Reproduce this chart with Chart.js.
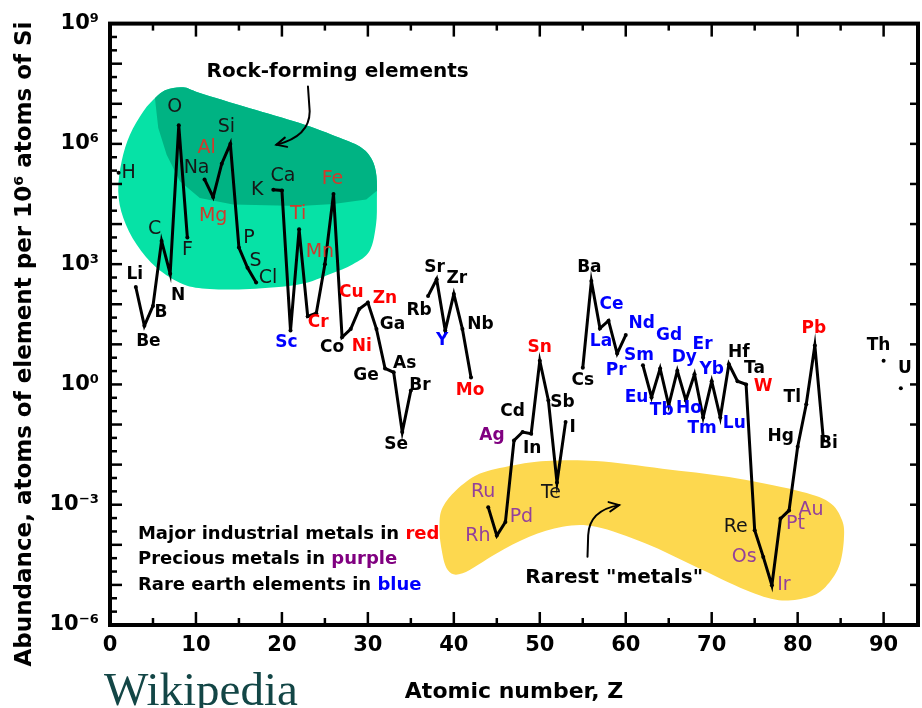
<!DOCTYPE html>
<html>
<head>
<meta charset="utf-8">
<script src="https://cdn.jsdelivr.net/npm/chart.js@4.4.1/dist/chart.umd.min.js"></script>
<style>
html,body{margin:0;padding:0;background:#fff;}
canvas{display:block;}
</style>
</head>
<body>
<canvas id="chart" width="922" height="708"></canvas>
<script>
// element symbols and atomic numbers that appear on the plot
const symbols = ['H','Li','Be','B','C','N','O','F','Na','Mg','Al','Si','P','S','Cl','K','Ca','Sc','Ti','V','Cr','Mn','Fe','Co','Ni','Cu','Zn','Ga','Ge','As','Se','Br','Rb','Sr','Y','Zr','Nb','Mo','Ru','Rh','Pd','Ag','Cd','In','Sn','Sb','Te','I','Cs','Ba','La','Ce','Pr','Nd','Sm','Eu','Gd','Tb','Dy','Ho','Er','Tm','Yb','Lu','Hf','Ta','W','Re','Os','Ir','Pt','Au','Hg','Tl','Pb','Bi','Th','U'];
const atomicNumbers = [1,3,4,5,6,7,8,9,11,12,13,14,15,16,17,19,20,21,22,23,24,25,26,27,28,29,30,31,32,33,34,35,37,38,39,40,41,42,44,45,46,47,48,49,50,51,52,53,55,56,57,58,59,60,62,63,64,65,66,67,68,69,70,71,72,73,74,75,76,77,78,79,80,81,82,83,90,92];
// atoms per 10^6 atoms of Si
const abundance = [1.9e5,270,29,91,3800,580,2.9e6,4600,1.3e5,4.7e4,3.2e5,1e6,2600,810,350,7.2e4,6.9e4,22,7400,50,60,1000,5.6e4,15,24,76,110,24,2.5,2.0,0.065,0.71,160,420,22,180,24,1.5,8.7e-4,1.7e-4,3.7e-4,0.040,0.065,0.059,3.9,0.40,0.0036,0.115,2.6,380,25,39,5.9,17,3.0,0.48,2.5,0.30,2.2,0.40,1.8,0.15,1.2,0.15,3.2,1.2,1.0,2.3e-4,5.0e-5,9.8e-6,4.5e-4,7.2e-4,0.028,0.32,9.3,0.040,3.9,0.8];

const industrial = ['Al','Mg','Ti','Cr','Mn','Fe','Ni','Cu','Zn','Mo','Sn','W','Pb'];
const precious = ['Ag','Ru','Rh','Pd','Os','Ir','Pt','Au'];
const rareEarth = ['Sc','Y','La','Ce','Pr','Nd','Sm','Eu','Gd','Tb','Dy','Ho','Er','Tm','Yb','Lu'];

const xTickStep = 10;
const yTickExponents = [-6,-3,0,3,6,9];

// ---- layout / style (not data) ----
const thinLabels = ['H','C','O','F','Na','Al','Mg','Si','P','S','Cl','K','Ca','Ti','Mn','Fe','Ru','Rh','Pd','Te','Re','Os','Ir','Pt','Au'];
const labelOffsets = [[10,0],[-1,-12],[4,16],[8,7],[-7,-12],[8,22],[-4,-18],[0,12],[-8,-11],[0,19],[-15,-16],[-4,-17],[10,-9],[8,-7],[12,-4],[-16,0],[1,-14],[-4,12],[-1,-15],null,[2,9],[-5,-12],[-1,-15],[-10,10],[11,17],[-8,-16],[17,-4],[16,-5],[-19,7],[11,-9],[-6,13],[9,-5],[-9,15],[-2,-12],[-3,10],[3,-15],[18,-5],[-1,13],[-5,-15],[-19,0],[16,-5],[-22,-5],[-10,-20],[1,15],[0,-13],[14,2],[-6,11],[7,5],[0,13],[-2,-13],[1,13],[3,-16],[-1,17],[16,-12],[-4,-10],[-15,0],[9,-33],[-7,5],[7,-13],[3,8],[8,-30],[-1,11],[0,-12],[14,6],[10,-12],[17,-13],[17,2],[-19,-3],[-19,0],[12,0],[15,5],[22,0],[-17,-10],[-14,-7],[-1,-17],[5,3],[-5,-15],[4,-20]];

// shaded regions, in (Z, log10 abundance)
const rockOutline = [[5.42,7.18],[6.59,7.35],[8.51,7.41],[10.45,7.27],[16.26,6.89],[22.07,6.52],[26.71,6.15],[29.3,5.9],[30.5,5.6],[31.0,5.2],[31.05,4.6],[30.95,3.99],[30.2,3.33],[28.26,3.0],[25.55,2.75],[22.07,2.5],[16.26,2.38],[11.61,2.38],[8.51,2.5],[5.42,2.91],[3.1,3.49],[1.54,4.16],[0.96,4.82],[1.36,5.57],[2.32,6.23],[3.87,6.81]];
const rockDark = [[4.6,7.7],[33,7.7],[33,4.85],[30.98,4.82],[29.81,4.61],[26,4.5],[22.07,4.45],[14.32,4.49],[10.45,4.65],[8.13,5.07],[6.59,5.73],[5.61,6.4],[5.23,7.14],[5.0,7.7]];
const rareOutline = [[38.71,-3.06],[40.27,-2.64],[42.97,-2.23],[46.84,-2.02],[50.72,-1.91],[56.53,-1.91],[64.26,-2.10],[72.01,-2.31],[79.76,-2.64],[83.62,-2.93],[85.17,-3.39],[85.37,-3.89],[84.79,-4.55],[83.24,-5.05],[81.3,-5.3],[77.82,-5.38],[73.95,-5.13],[68.14,-4.55],[62.33,-3.97],[56.53,-3.55],[52.65,-3.55],[48.78,-3.8],[44.91,-4.22],[41.03,-4.71],[39.29,-4.63],[38.52,-4.05],[38.33,-3.47]];

const lineData = [];
atomicNumbers.forEach((z, i) => {
  if (i > 0 && z - atomicNumbers[i-1] > 1) lineData.push({x: z - 1, y: null});
  lineData.push({x: z, y: abundance[i]});
});

const supers = {'-':'\u207B','0':'\u2070','1':'\u00B9','2':'\u00B2','3':'\u00B3','4':'\u2074','5':'\u2075','6':'\u2076','7':'\u2077','8':'\u2078','9':'\u2079'};
function powerLabel(v){
  const e = Math.round(Math.log10(v));
  return '10' + String(e).split('').map(c => supers[c]).join('');
}

const FONT = '"DejaVu Sans", "Liberation Sans", sans-serif';

function toPx(chart, p){
  return [chart.scales.x.getPixelForValue(p[0]), chart.scales.y.getPixelForValue(Math.pow(10, p[1]))];
}
function smoothPath(ctx, pts){
  const n = pts.length;
  ctx.beginPath();
  ctx.moveTo(pts[0][0], pts[0][1]);
  for (let i = 0; i < n; i++) {
    const p0 = pts[(i-1+n)%n], p1 = pts[i], p2 = pts[(i+1)%n], p3 = pts[(i+2)%n];
    ctx.bezierCurveTo(p1[0]+(p2[0]-p0[0])/6, p1[1]+(p2[1]-p0[1])/6,
                      p2[0]-(p3[0]-p1[0])/6, p2[1]-(p3[1]-p1[1])/6, p2[0], p2[1]);
  }
  ctx.closePath();
}
function arrowHead(ctx, from, tip){
  const ang = Math.atan2(tip[1]-from[1], tip[0]-from[0]);
  ctx.beginPath();
  ctx.moveTo(tip[0] - 11*Math.cos(ang-0.45), tip[1] - 11*Math.sin(ang-0.45));
  ctx.lineTo(tip[0], tip[1]);
  ctx.lineTo(tip[0] - 11*Math.cos(ang+0.45), tip[1] - 11*Math.sin(ang+0.45));
  ctx.stroke();
}

const regions = {
  id: 'regions',
  beforeDatasetsDraw(chart){
    const ctx = chart.ctx;
    ctx.save();
    const rock = rockOutline.map(p => toPx(chart, p));
    smoothPath(ctx, rock);
    ctx.fillStyle = '#06e2a6';
    ctx.fill();
    ctx.clip();
    ctx.beginPath();
    rockDark.map(p => toPx(chart, p)).forEach((p, i) => i ? ctx.lineTo(p[0], p[1]) : ctx.moveTo(p[0], p[1]));
    ctx.closePath();
    ctx.fillStyle = '#00b383';
    ctx.fill();
    ctx.restore();

    ctx.save();
    smoothPath(ctx, rareOutline.map(p => toPx(chart, p)));
    ctx.fillStyle = '#fdd84f';
    ctx.fill();
    ctx.restore();
  }
};

const annotations = {
  id: 'annotations',
  afterDatasetsDraw(chart){
    const ctx = chart.ctx, xs = chart.scales.x, ys = chart.scales.y;
    ctx.save();
    ctx.textAlign = 'center';
    ctx.textBaseline = 'middle';
    symbols.forEach((s, i) => {
      const off = labelOffsets[i];
      if (!off) return;
      const px = xs.getPixelForValue(atomicNumbers[i]) + off[0];
      const py = ys.getPixelForValue(abundance[i]) + off[1];
      const thin = thinLabels.includes(s);
      let color = thin ? '#161616' : '#000';
      if (industrial.includes(s)) color = thin ? '#d03a2c' : '#ff0000';
      else if (precious.includes(s)) color = thin ? '#94409a' : '#800080';
      else if (rareEarth.includes(s)) color = '#0000ff';
      ctx.font = thin ? '19px ' + FONT : 'bold 17px ' + FONT;
      ctx.fillStyle = color;
      ctx.fillText(s, px, py);
    });

    // titles of the shaded regions
    ctx.font = 'bold 20px ' + FONT;
    ctx.fillStyle = '#000';
    let p = toPx(chart, [26.48, 7.81]);
    ctx.fillText('Rock-forming elements', p[0], p[1]);
    p = toPx(chart, [58.65, -4.83]);
    ctx.fillText('Rarest "metals"', p[0], p[1]);

    // arrows
    ctx.strokeStyle = '#000';
    ctx.lineWidth = 2;
    ctx.lineCap = 'round';
    let a0 = toPx(chart, [23.03, 7.43]), a1 = toPx(chart, [23.23, 6.81]), ac = toPx(chart, [23.23, 6.19]), at = toPx(chart, [19.36, 5.98]);
    ctx.beginPath(); ctx.moveTo(a0[0], a0[1]); ctx.lineTo(a1[0], a1[1]); ctx.quadraticCurveTo(ac[0], ac[1], at[0], at[1]); ctx.stroke();
    arrowHead(ctx, ac, at);
    a0 = toPx(chart, [55.55, -4.30]); a1 = toPx(chart, [55.63, -3.76]); ac = toPx(chart, [55.75, -3.14]); at = toPx(chart, [59.23, -3.01]);
    ctx.beginPath(); ctx.moveTo(a0[0], a0[1]); ctx.lineTo(a1[0], a1[1]); ctx.quadraticCurveTo(ac[0], ac[1], at[0], at[1]); ctx.stroke();
    arrowHead(ctx, ac, at);

    // colour key
    const key = [['Major industrial metals in ', 'red', '#ff0000', -3.74], ['Precious metals in ', 'purple', '#800080', -4.36], ['Rare earth elements in ', 'blue', '#0000ff', -5.01]];
    ctx.font = 'bold 18px ' + FONT;
    ctx.textAlign = 'left';
    key.forEach(k => {
      const q = toPx(chart, [3.25, k[3]]);
      ctx.fillStyle = '#000';
      ctx.fillText(k[0], q[0], q[1]);
      ctx.fillStyle = k[2];
      ctx.fillText(k[1], q[0] + ctx.measureText(k[0]).width, q[1]);
    });
    ctx.restore();
  }
};

const frame = {
  id: 'frame',
  afterDraw(chart){
    const ctx = chart.ctx, a = chart.chartArea, xs = chart.scales.x, ys = chart.scales.y;
    ctx.save();
    ctx.strokeStyle = '#000';
    ctx.lineWidth = 2.5;
    const seg = (x1, y1, x2, y2) => { ctx.beginPath(); ctx.moveTo(x1, y1); ctx.lineTo(x2, y2); ctx.stroke(); };
    for (let v = 0; v <= 90; v += 5) {
      const px = xs.getPixelForValue(v);
      const len = v % 10 === 0 ? 13 : 7;
      seg(px, a.bottom, px, a.bottom - len);
      seg(px, a.top, px, a.top + len);
    }
    for (let e = -6; e <= 9; e++) {
      const py = ys.getPixelForValue(Math.pow(10, e));
      seg(a.left, py, a.left + 12, py);
      seg(a.right, py, a.right - 8, py);
      if (e < 9) [1/3, 2/3].forEach(f => {
        const q = ys.getPixelForValue(Math.pow(10, e + f));
        seg(a.left, q, a.left + 7, q);
      });
    }
    ctx.lineWidth = 4;
    ctx.strokeRect(a.left, a.top, a.right - a.left, a.bottom - a.top);

    // y-axis title
    ctx.save();
    ctx.translate(25, 344);
    ctx.rotate(-Math.PI / 2);
    ctx.font = 'bold 23px ' + FONT;
    ctx.fillStyle = '#000';
    ctx.textAlign = 'center';
    ctx.textBaseline = 'middle';
    ctx.fillText('Abundance, atoms of element per 10\u2076 atoms of Si', 0, 0);
    ctx.restore();

    ctx.font = '47px "Liberation Serif", serif';
    ctx.fillStyle = '#134646';
    ctx.textAlign = 'left';
    ctx.textBaseline = 'alphabetic';
    ctx.fillText('Wikipedia', 104, 705);
    ctx.restore();
  }
};

new Chart(document.getElementById('chart'), {
  type: 'line',
  data: {
    datasets: [{
      data: lineData,
      borderColor: '#000',
      borderWidth: 3,
      pointRadius: 2,
      pointBackgroundColor: '#000',
      pointBorderWidth: 0,
      tension: 0,
      spanGaps: false
    }]
  },
  options: {
    responsive: false,
    animation: false,
    layout: {padding: {left: 0, right: 2, top: 22, bottom: 0}},
    plugins: {legend: {display: false}, tooltip: {enabled: false}},
    scales: {
      x: {
        type: 'linear', min: 0, max: 94,
        grid: {display: false, drawTicks: false},
        border: {display: false},
        ticks: {stepSize: xTickStep, includeBounds: false, autoSkip: false, maxRotation: 0, padding: 8, color: '#000', font: {family: FONT, weight: 'bold', size: 21}},
        title: {display: true, text: 'Atomic number, Z', color: '#000', font: {family: FONT, weight: 'bold', size: 22}, padding: {top: 0, bottom: 3}},
        afterFit: s => { s.height = 83; }
      },
      y: {
        type: 'logarithmic', min: 1e-6, max: 1e9,
        grid: {display: false, drawTicks: false},
        border: {display: false},
        afterBuildTicks: s => { s.ticks = yTickExponents.map(e => ({value: Math.pow(10, e)})); },
        ticks: {autoSkip: false, padding: 11, color: '#000', font: {family: FONT, weight: 'bold', size: 21}, callback: v => powerLabel(v)},
        afterFit: s => { s.width = 110; }
      }
    }
  },
  plugins: [regions, annotations, frame]
});
</script>
</body>
</html>
